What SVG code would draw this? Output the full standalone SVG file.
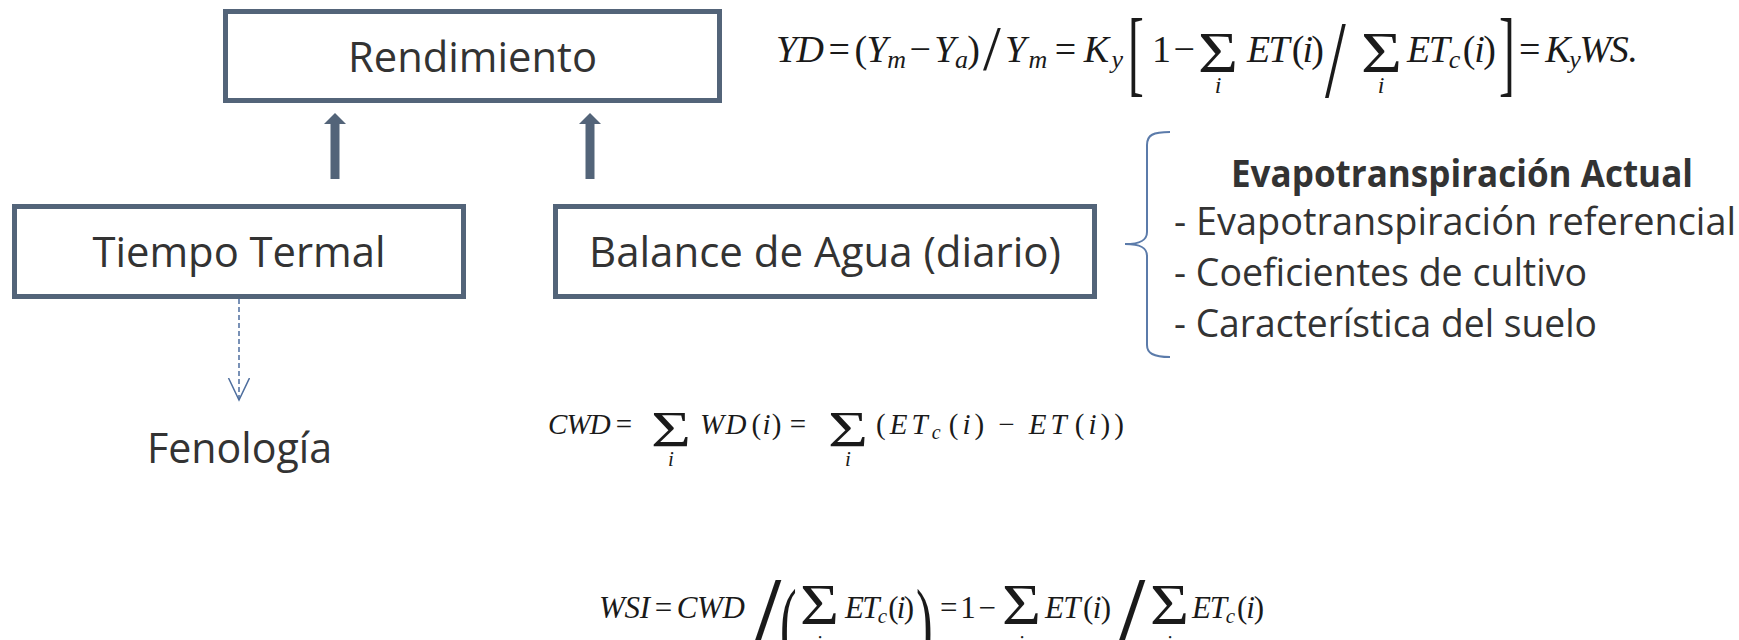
<svg xmlns="http://www.w3.org/2000/svg" width="1739" height="640" viewBox="0 0 1739 640">
<defs>
<style>
.box{fill:#ffffff;stroke:#536479;stroke-width:5}
.lbl{font-family:"Open Sans","Liberation Sans",sans-serif;font-size:42px;fill:#333333}
.lst{font-family:"Open Sans","Liberation Sans",sans-serif;font-size:38px;fill:#333333}
.bold{font-weight:bold}
.m{font-family:"Liberation Serif","Times New Roman",serif;font-style:italic;fill:#1a1a1a}
.u{font-style:normal}
.f1{font-size:38px}
.f2{font-size:29px}
.f3{font-size:31px}
.s1{font-size:26px}
.s2{font-size:20px}
.s3{font-size:21px}
.sig{font-family:"Liberation Serif","Times New Roman",serif;font-style:normal;fill:#1a1a1a}
.del{font-family:"Liberation Serif","Times New Roman",serif;font-style:normal;fill:#1a1a1a}
.thick{stroke:#536479;stroke-width:9;fill:none}
.dash{stroke:#4E6E9E;stroke-width:1.5;stroke-dasharray:5 3;fill:none}
.brace{stroke:#5B7BAA;stroke-width:2;fill:none}
</style>
<marker id="headUp" viewBox="0 0 11 22" refX="0" refY="11" markerWidth="11" markerHeight="22" markerUnits="userSpaceOnUse" orient="auto">
<path d="M0,0 L11,11 L0,22 Z" fill="#536479"/>
</marker>
<marker id="chev" viewBox="0 0 24 24" refX="22" refY="11" markerWidth="24" markerHeight="24" markerUnits="userSpaceOnUse" orient="auto">
<path d="M0,0.5 L22,11 L0,21.5" fill="none" stroke="#4E6E9E" stroke-width="1.5"/>
</marker>
</defs>
<rect width="1739" height="640" fill="#ffffff"/>

<g id="connectors">
<line class="thick" x1="335" y1="179" x2="335" y2="124" marker-end="url(#headUp)"/>
<line class="thick" x1="590" y1="179" x2="590" y2="124" marker-end="url(#headUp)"/>
<line class="dash" x1="239" y1="299" x2="239" y2="400" marker-end="url(#chev)"/>
<path class="brace" d="M1170,132 C1153,132 1147,135 1147,145 L1147,232 C1147,240 1141,244 1125,244 C1141,244 1147,248 1147,256 L1147,345 C1147,353 1153,357 1170,357"/>
</g>

<g id="node-rendimiento">
<rect class="box" x="225.5" y="11.5" width="494" height="89"/>
<text class="lbl" x="472.5" y="72" text-anchor="middle" textLength="249" lengthAdjust="spacingAndGlyphs">Rendimiento</text>
</g>

<g id="node-tiempo">
<rect class="box" x="14.5" y="206.5" width="449" height="90"/>
<text class="lbl" x="239" y="267" text-anchor="middle" textLength="293" lengthAdjust="spacingAndGlyphs">Tiempo Termal</text>
</g>

<g id="node-balance">
<rect class="box" x="555.5" y="206.5" width="539" height="90"/>
<text class="lbl" x="825" y="267" text-anchor="middle" textLength="472" lengthAdjust="spacingAndGlyphs">Balance de Agua (diario)</text>
</g>

<g id="node-fenologia">
<text class="lbl" x="147" y="463" textLength="185" lengthAdjust="spacingAndGlyphs">Fenología</text>
</g>

<g id="node-evapotranspiracion">
<text class="lst bold" x="1231" y="187" textLength="462" lengthAdjust="spacingAndGlyphs">Evapotranspiración Actual</text>
<text class="lst" x="1174" y="235" textLength="562" lengthAdjust="spacingAndGlyphs">- Evapotranspiración referencial</text>
<text class="lst" x="1174" y="286" textLength="413" lengthAdjust="spacingAndGlyphs">- Coeficientes de cultivo</text>
<text class="lst" x="1174" y="337" textLength="423" lengthAdjust="spacingAndGlyphs">- Característica del suelo</text>
</g>

<g id="formula-yd">
<text class="m f1" x="776" y="62" textLength="204" lengthAdjust="spacing">YD<tspan class="u" dx="5">=</tspan><tspan class="u" dx="5">(</tspan>Y<tspan class="s1" dy="6">m</tspan><tspan class="u" dy="-6" dx="4">−</tspan><tspan dx="4">Y</tspan><tspan class="s1" dy="6">a</tspan><tspan class="u" dy="-6">)</tspan></text>
<text class="del" x="983" y="70" font-size="64">/</text>
<text class="m f1" x="1005" y="62" textLength="118" lengthAdjust="spacing">Y<tspan class="s1" dy="6">m</tspan><tspan class="u" dy="-6" dx="5">=</tspan><tspan dx="5">K</tspan><tspan class="s1" dy="6">y</tspan></text>
<text class="del" transform="translate(1128 0) scale(0.5 1)" x="0" y="84" font-size="95">[</text>
<text class="m f1 u" x="1152" y="62" textLength="43" lengthAdjust="spacing">1 −</text>
<text class="sig" x="1198" y="72" font-size="56" textLength="40" lengthAdjust="spacingAndGlyphs">Σ</text>
<text class="m" x="1218" y="93" font-size="24" text-anchor="middle">i</text>
<text class="m f1" x="1247" y="62" textLength="77" lengthAdjust="spacing">ET<tspan class="u" dx="4">(</tspan>i<tspan class="u">)</tspan></text>
<text class="del" transform="translate(1325 0) scale(0.68 1)" x="0" y="97" font-size="110">/</text>
<text class="sig" x="1361" y="72" font-size="56" textLength="41" lengthAdjust="spacingAndGlyphs">Σ</text>
<text class="m" x="1381" y="93" font-size="24" text-anchor="middle">i</text>
<text class="m f1" x="1407" y="62" textLength="89" lengthAdjust="spacing">ET<tspan class="s1" dy="6">c</tspan><tspan class="u" dy="-6" dx="4">(</tspan>i<tspan class="u">)</tspan></text>
<text class="del" transform="translate(1499 0) scale(0.5 1)" x="0" y="84" font-size="95">]</text>
<text class="m f1" x="1519" y="62" textLength="118" lengthAdjust="spacing"><tspan class="u">=</tspan><tspan dx="6">K</tspan><tspan class="s1" dy="6">y</tspan><tspan dy="-6">WS</tspan><tspan class="u">.</tspan></text>
</g>

<g id="formula-cwd">
<text class="m f2" x="548" y="434" textLength="84" lengthAdjust="spacing">CWD<tspan class="u" dx="6">=</tspan></text>
<text class="sig" x="651" y="446" font-size="50" textLength="40" lengthAdjust="spacingAndGlyphs">Σ</text>
<text class="m" x="671" y="466" font-size="21" text-anchor="middle">i</text>
<text class="m f2" x="700" y="434" textLength="106" lengthAdjust="spacing">WD<tspan class="u" dx="4">(</tspan>i<tspan class="u">)</tspan><tspan class="u" dx="7">=</tspan></text>
<text class="sig" x="828" y="446" font-size="50" textLength="40" lengthAdjust="spacingAndGlyphs">Σ</text>
<text class="m" x="848" y="466" font-size="21" text-anchor="middle">i</text>
<text class="m f2" x="876" y="434" textLength="248" lengthAdjust="spacing"><tspan class="u">(</tspan>ET<tspan class="s2" dy="5">c</tspan><tspan class="u" dy="-5" dx="4">(</tspan>i<tspan class="u">)</tspan><tspan class="u" dx="10">−</tspan><tspan dx="10">ET</tspan><tspan class="u" dx="4">(</tspan>i<tspan class="u">))</tspan></text>
</g>

<g id="formula-wsi">
<text class="m f3" x="599" y="618" textLength="146" lengthAdjust="spacing">WSI<tspan class="u" dx="5">=</tspan><tspan dx="5">CWD</tspan></text>
<text class="del" x="748" y="660" font-size="120">/</text>
<text class="del" transform="translate(780 0) scale(0.5 1)" x="0" y="658" font-size="100">(</text>
<text class="sig" x="800" y="624" font-size="56" textLength="39" lengthAdjust="spacingAndGlyphs">Σ</text>
<text class="m" x="819" y="650" font-size="21" text-anchor="middle">i</text>
<text class="m f3" x="845" y="618" textLength="69" lengthAdjust="spacing">ET<tspan class="s3" dy="5">c</tspan><tspan class="u" dy="-5" dx="3">(</tspan>i<tspan class="u">)</tspan></text>
<text class="del" transform="translate(916 0) scale(0.5 1)" x="0" y="658" font-size="100">)</text>
<text class="m f3 u" x="940" y="618" textLength="56" lengthAdjust="spacing">= 1 −</text>
<text class="sig" x="1002" y="624" font-size="56" textLength="39" lengthAdjust="spacingAndGlyphs">Σ</text>
<text class="m" x="1021" y="650" font-size="21" text-anchor="middle">i</text>
<text class="m f3" x="1045" y="618" textLength="66" lengthAdjust="spacing">ET<tspan class="u" dx="3">(</tspan>i<tspan class="u">)</tspan></text>
<text class="del" x="1112" y="660" font-size="120">/</text>
<text class="sig" x="1150" y="624" font-size="56" textLength="39" lengthAdjust="spacingAndGlyphs">Σ</text>
<text class="m" x="1169" y="650" font-size="21" text-anchor="middle">i</text>
<text class="m f3" x="1192" y="618" textLength="72" lengthAdjust="spacing">ET<tspan class="s3" dy="5">c</tspan><tspan class="u" dy="-5" dx="3">(</tspan>i<tspan class="u">)</tspan></text>
</g>
</svg>
